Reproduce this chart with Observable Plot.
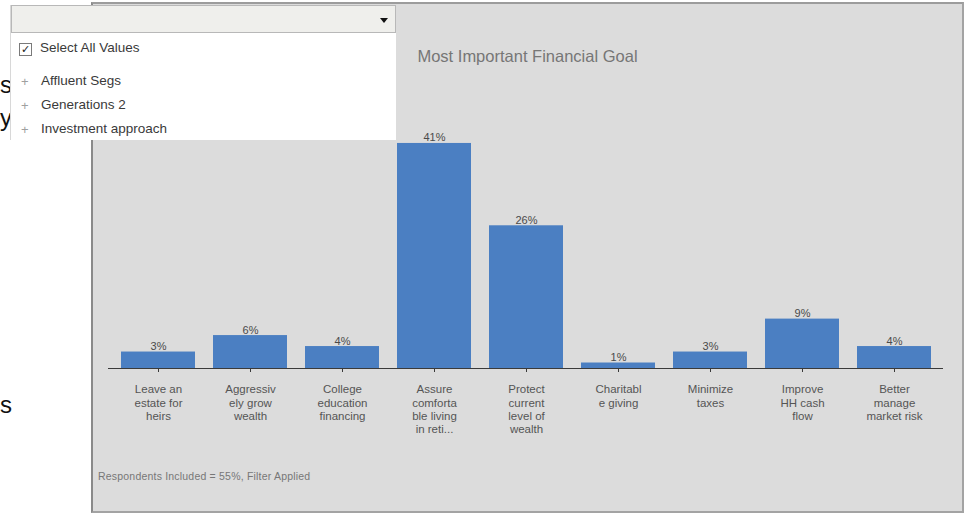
<!DOCTYPE html>
<html><head><meta charset="utf-8">
<script src="https://cdn.jsdelivr.net/npm/d3@7"></script>
<script src="https://cdn.jsdelivr.net/npm/@observablehq/plot@0.6"></script>
<style>
body{margin:0;width:966px;height:515px;overflow:hidden;background:#fff;font-family:"Liberation Sans",Arial,sans-serif;position:relative}
#panel{position:absolute;left:91px;top:2px;width:869px;height:507px;background:#dcdcdc;border:2px solid #a3a3a3;border-left-color:#8a8a8a;border-top-color:#9c9c9c}
#title{position:absolute;left:0;top:43px;width:869px;text-align:center;font-size:16.5px;color:#767676}
#chart{position:absolute;left:0;top:66px}
#caption{position:absolute;left:5px;top:466px;font-size:10.5px;color:#777;letter-spacing:0.2px}
.frag{position:absolute;font-size:24px;color:#111;line-height:1}
#dd{position:absolute;left:10px;top:5px;width:385px;height:135px;background:#fff;border-left:1px solid #d8d8d8}
#ddhead{position:absolute;left:0;top:0;width:383px;height:26px;background:#efefec;border:1px solid #b8b8b8}
#tri{position:absolute;left:368px;top:12px;width:0;height:0;border-left:4px solid transparent;border-right:4px solid transparent;border-top:5px solid #111}
#cb{position:absolute;left:8px;top:38px;width:11px;height:11px;border:1px solid #7a7a7a;background:#fff;font-size:11px;line-height:11px;text-align:center;color:#222}
.item{position:absolute;font-size:13.5px;color:#3a3a3a;line-height:16px}
.plus{position:absolute;font-size:13px;color:#a0a0a0;line-height:16px}
</style></head>
<body>
<div class="frag" style="left:0px;top:73px">s</div>
<div class="frag" style="left:0px;top:106px">y</div>
<div class="frag" style="left:0px;top:393px">s</div>
<div id="panel">
  <div id="title">Most Important Financial Goal</div>
  <div id="chart"></div>
  <div id="caption">Respondents Included = 55%, Filter Applied</div>
</div>
<div id="dd">
  <div id="ddhead"><div id="tri"></div></div>
  <div id="cb">✓</div>
  <div class="item" style="left:29px;top:35px">Select All Values</div>
  <div class="plus" style="left:10px;top:69px">+</div>
  <div class="item" style="left:30px;top:68px">Affluent Segs</div>
  <div class="plus" style="left:10px;top:93px">+</div>
  <div class="item" style="left:30px;top:92px">Generations 2</div>
  <div class="plus" style="left:10px;top:117px">+</div>
  <div class="item" style="left:30px;top:116px">Investment approach</div>
</div>
<script>
const categories = [
  "Leave an\nestate for\nheirs",
  "Aggressiv\nely grow\nwealth",
  "College\neducation\nfinancing",
  "Assure\ncomforta\nble living\nin reti...",
  "Protect\ncurrent\nlevel of\nwealth",
  "Charitabl\ne giving",
  "Minimize\ntaxes",
  "Improve\nHH cash\nflow",
  "Better\nmanage\nmarket risk"
];
const values = [3, 6, 4, 41, 26, 1, 3, 9, 4];
const valueLabels = ["3%", "6%", "4%", "41%", "26%", "1%", "3%", "9%", "4%"];

const data = categories.map((c, i) => ({cat: c, v: values[i], label: valueLabels[i]}));

const chart = Plot.plot({
  width: 869,
  height: 380,
  marginLeft: 15,
  marginRight: 19,
  marginTop: 51,
  marginBottom: 82,
  style: {background: "transparent", fontFamily: "'Liberation Sans', Arial, sans-serif"},
  x: {domain: categories, paddingInner: 0.2, paddingOuter: 0.1, axis: null, label: null},
  y: {domain: [0, 45], axis: null},
  marks: [
    Plot.barY(data, {x: "cat", y: "v", fill: "#4b7fc2"}),
    Plot.text(data, {x: "cat", y: "v", text: "label", dy: -2, lineAnchor: "bottom", fontSize: 11, fill: "#4a4a4a"}),
    Plot.ruleY([0], {stroke: "#3a3a3a", strokeWidth: 1.2}),
    Plot.axisX({tickSize: 4, tickPadding: 11, fontSize: 11.5, lineHeight: 1.17, color: "#555", stroke: "#3a3a3a", label: null, tickFormat: d => d})
  ]
});
document.getElementById("chart").appendChild(chart);
</script>
</body></html>
